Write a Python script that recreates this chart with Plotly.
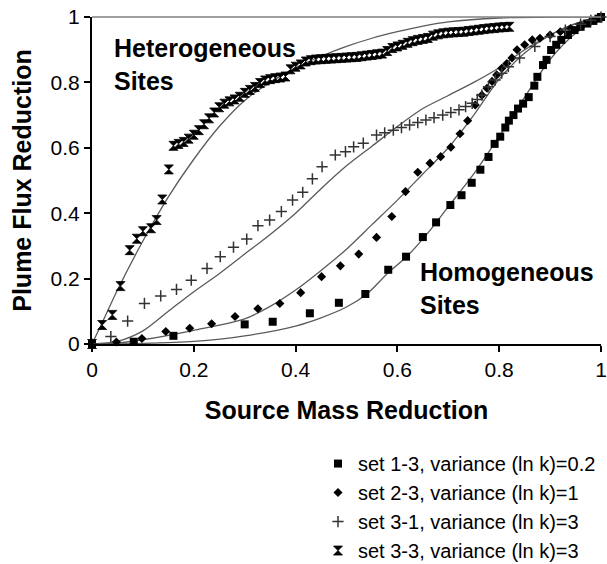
import plotly.graph_objects as go

# ---------------- data ----------------
# set 1-3, variance (ln k)=0.2  (squares)
s13_x = [0.0, 0.082, 0.16, 0.30, 0.355, 0.428, 0.485, 0.537, 0.582, 0.617, 0.65, 0.676,
         0.704, 0.726, 0.746, 0.763, 0.779, 0.791, 0.802, 0.812, 0.819, 0.828, 0.837,
         0.847, 0.858, 0.869, 0.875, 0.886, 0.893, 0.902, 0.912, 0.922, 0.935, 0.948,
         0.96, 0.973, 0.985, 0.995, 1.0]
s13_y = [0.0, 0.007, 0.025, 0.06, 0.068, 0.094, 0.126, 0.153, 0.227, 0.267, 0.327, 0.372,
         0.425, 0.455, 0.493, 0.533, 0.572, 0.612, 0.634, 0.662, 0.683, 0.70, 0.72,
         0.735, 0.755, 0.79, 0.817, 0.853, 0.869, 0.899, 0.915, 0.93, 0.945, 0.96,
         0.97, 0.98, 0.988, 0.995, 1.0]

# set 2-3, variance (ln k)=1  (diamonds)
s23_x = [0.0, 0.048, 0.098, 0.145, 0.192, 0.235, 0.281, 0.326, 0.369, 0.41, 0.451, 0.488,
         0.524, 0.559, 0.589, 0.616, 0.64, 0.664, 0.685, 0.705, 0.723, 0.738, 0.753,
         0.766, 0.776, 0.786, 0.795, 0.805, 0.815, 0.825, 0.835, 0.85, 0.865, 0.88,
         0.9, 0.92, 0.94, 0.96, 0.98, 1.0]
s23_y = [0.0, 0.006, 0.017, 0.038, 0.048, 0.062, 0.084, 0.108, 0.124, 0.157, 0.206, 0.239,
         0.275, 0.326, 0.39, 0.466, 0.525, 0.553, 0.573, 0.602, 0.643, 0.683, 0.731,
         0.761, 0.782, 0.803, 0.823, 0.843, 0.858, 0.875, 0.90, 0.915, 0.93, 0.935,
         0.945, 0.955, 0.965, 0.975, 0.988, 1.0]

# set 3-1, variance (ln k)=3  (plus signs)
s31_x = [0.0, 0.037, 0.07, 0.103, 0.135, 0.166, 0.195, 0.226, 0.252, 0.278, 0.304, 0.326,
         0.349, 0.372, 0.394, 0.414, 0.433, 0.452, 0.478, 0.498, 0.514, 0.533, 0.559,
         0.575, 0.592, 0.608, 0.624, 0.64, 0.656, 0.672, 0.689, 0.705, 0.721, 0.734,
         0.747, 0.757, 0.766, 0.779, 0.792, 0.805, 0.818, 0.84, 0.87, 0.9, 0.93,
         0.96, 0.98, 1.0]
s31_y = [0.0, 0.023, 0.07, 0.124, 0.147, 0.167, 0.195, 0.231, 0.267, 0.296, 0.321, 0.362,
         0.379, 0.405, 0.44, 0.464, 0.505, 0.542, 0.578, 0.588, 0.603, 0.614, 0.639,
         0.646, 0.654, 0.662, 0.67, 0.677, 0.685, 0.692, 0.70, 0.708, 0.716, 0.726,
         0.736, 0.748, 0.761, 0.787, 0.807, 0.828, 0.848, 0.875, 0.91, 0.94, 0.96,
         0.978, 0.99, 1.0]

# set 3-3, variance (ln k)=3  (hourglass)
s33_x = [0.0, 0.02, 0.04, 0.056, 0.074, 0.088, 0.10, 0.116, 0.127, 0.138, 0.151,
         0.16, 0.17, 0.18, 0.19, 0.20, 0.21, 0.22, 0.23, 0.24, 0.25, 0.26, 0.27, 0.28,
         0.29, 0.30, 0.31, 0.32, 0.33, 0.34, 0.35, 0.36, 0.37, 0.38, 0.39, 0.40, 0.41,
         0.42, 0.43, 0.44, 0.45, 0.46, 0.47, 0.48, 0.49, 0.50, 0.51, 0.52, 0.53, 0.54,
         0.55, 0.56, 0.57, 0.58, 0.59, 0.60, 0.61, 0.62, 0.63, 0.64, 0.65, 0.66, 0.67,
         0.68, 0.69, 0.70, 0.71, 0.72, 0.73, 0.74, 0.75, 0.76, 0.77, 0.78, 0.79, 0.80,
         0.81, 0.82]
s33_y = [0.0, 0.058, 0.089, 0.177, 0.287, 0.322, 0.345, 0.354, 0.379, 0.442, 0.534,
         0.606, 0.612, 0.618, 0.628, 0.640, 0.654, 0.672, 0.690, 0.708, 0.724, 0.735,
         0.742, 0.748, 0.756, 0.768, 0.777, 0.786, 0.798, 0.806, 0.810, 0.813, 0.815,
         0.818, 0.840, 0.848, 0.855, 0.864, 0.868, 0.870, 0.871, 0.872, 0.873, 0.874,
         0.875, 0.876, 0.877, 0.878, 0.880, 0.882, 0.884, 0.886, 0.888, 0.896, 0.905,
         0.910, 0.915, 0.921, 0.926, 0.930, 0.933, 0.936, 0.943, 0.947, 0.950, 0.952,
         0.953, 0.954, 0.955, 0.957, 0.959, 0.961, 0.963, 0.965, 0.966, 0.968, 0.969,
         0.970]

# model curves (thin grey lines)
c13_x = [0.0, 0.1, 0.2, 0.3, 0.4, 0.45, 0.5, 0.54, 0.58, 0.62, 0.66, 0.7, 0.75, 0.8, 0.85, 0.9, 0.95, 1.0]
c13_y = [0.0, 0.002, 0.008, 0.025, 0.055, 0.08, 0.113, 0.153, 0.215, 0.27, 0.34, 0.42, 0.52, 0.635, 0.755, 0.87, 0.95, 1.0]

c23_x = [0.0, 0.05, 0.1, 0.2, 0.3, 0.35, 0.4, 0.45, 0.5, 0.55, 0.6, 0.65, 0.7, 0.75, 0.8, 0.85, 0.9, 0.95, 1.0]
c23_y = [0.0, 0.003, 0.013, 0.042, 0.077, 0.115, 0.165, 0.225, 0.29, 0.365, 0.44, 0.52, 0.6, 0.7, 0.81, 0.89, 0.945, 0.98, 1.0]

c31_x = [0.0, 0.05, 0.1, 0.15, 0.2, 0.25, 0.3, 0.35, 0.4, 0.45, 0.5, 0.55, 0.6, 0.65, 0.7, 0.75, 0.8, 0.85, 0.9, 0.95, 1.0]
c31_y = [0.0, 0.008, 0.04, 0.1, 0.16, 0.215, 0.275, 0.335, 0.4, 0.475, 0.545, 0.605, 0.665, 0.72, 0.76, 0.8, 0.845, 0.9, 0.945, 0.98, 1.0]

c33_x = [0.0, 0.02, 0.05, 0.1, 0.15, 0.2, 0.25, 0.3, 0.35, 0.4, 0.45, 0.5, 0.55, 0.6, 0.65, 0.7, 0.8, 0.9, 1.0]
c33_y = [0.0, 0.065, 0.165, 0.315, 0.45, 0.565, 0.665, 0.745, 0.8, 0.845, 0.88, 0.91, 0.935, 0.955, 0.972, 0.985, 0.997, 1.0, 1.0]

tick_vals = [0, 0.2, 0.4, 0.6, 0.8, 1]
tick_text = ["0", "0.2", "0.4", "0.6", "0.8", "1"]

labels = ["set 1-3, variance (ln k)=0.2", "set 2-3, variance (ln k)=1",
          "set 3-1, variance (ln k)=3", "set 3-3, variance (ln k)=3"]

# ---------------- figure ----------------
FONT = "Liberation Sans, Arial, sans-serif"
LINE_COLOR = "#5a5a5a"

fig = go.Figure()

for cx, cy in [(c13_x, c13_y), (c23_x, c23_y), (c31_x, c31_y), (c33_x, c33_y)]:
    fig.add_trace(go.Scatter(x=cx, y=cy, mode="lines", showlegend=False,
                             line=dict(color=LINE_COLOR, width=1.3, shape="spline", smoothing=0.8),
                             hoverinfo="skip"))

fig.add_trace(go.Scatter(x=s13_x, y=s13_y, mode="markers", name=labels[0], cliponaxis=False,
                         marker=dict(symbol="square", size=8, color="black")))
fig.add_trace(go.Scatter(x=s23_x, y=s23_y, mode="markers", name=labels[1], cliponaxis=False,
                         marker=dict(symbol="diamond", size=7, color="black")))
fig.add_trace(go.Scatter(x=s31_x, y=s31_y, mode="markers", name=labels[2], cliponaxis=False,
                         marker=dict(symbol="cross-thin", size=8, color="black",
                                     line=dict(color="#333333", width=1.5))))
fig.add_trace(go.Scatter(x=s33_x, y=s33_y, mode="markers", name=labels[3], cliponaxis=False,
                         marker=dict(symbol="hourglass", size=9, color="black",
                                     line=dict(color="black", width=0.8))))

fig.update_layout(
    width=607, height=564,
    margin=dict(l=92, r=6, t=17, b=220, autoexpand=False),
    paper_bgcolor="white", plot_bgcolor="white",
    font=dict(family=FONT, color="black"),
    showlegend=True,
    legend=dict(x=1.0, y=-0.306, xanchor="right", yanchor="top",
                font=dict(family=FONT, size=20, color="black"),
                bgcolor="rgba(0,0,0,0)", itemwidth=30, tracegroupgap=0),
    xaxis=dict(range=[0, 1], tickvals=tick_vals, ticktext=tick_text, automargin=False,
               showgrid=False, zeroline=False, showline=True, linecolor="black", linewidth=2,
               ticks="outside", ticklen=6, tickwidth=1.5, tickcolor="black",
               tickfont=dict(size=21, family=FONT),
               title=dict(text="<b>Source Mass Reduction</b>", font=dict(size=25, family=FONT), standoff=21)),
    yaxis=dict(range=[0, 1], tickvals=tick_vals, ticktext=tick_text, automargin=False,
               showgrid=False, zeroline=False, showline=True, linecolor="black", linewidth=2,
               ticks="outside", ticklen=6, tickwidth=1.5, tickcolor="black",
               tickfont=dict(size=21, family=FONT),
               title=dict(text="<b>Plume Flux Reduction</b>", font=dict(size=25, family=FONT), standoff=12)),
    shapes=[dict(type="line", xref="paper", yref="paper", x0=0, x1=1, y0=1, y1=1,
                 line=dict(color="#808080", width=1.5))],
    annotations=[
        dict(text="<b>Heterogeneous<br>Sites</b>", x=0.04, y=0.955, xref="x", yref="y",
             xanchor="left", yanchor="top", showarrow=False, align="left",
             font=dict(size=25, family=FONT, color="black")),
        dict(text="<b>Homogeneous<br>Sites</b>", x=0.64, y=0.27, xref="x", yref="y",
             xanchor="left", yanchor="top", showarrow=False, align="left",
             font=dict(size=25, family=FONT, color="black")),
    ],
)

# remove the browser's default 8px page margin so the figure fills the window exactly
fig.write_html("out.html", config={"displayModeBar": False},
               post_script="document.body.style.margin='0px';")
